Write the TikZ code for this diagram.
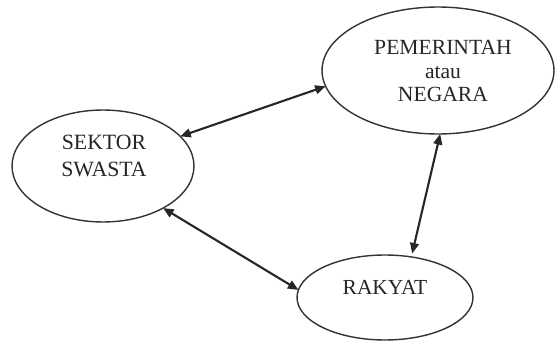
\documentclass[tikz,border=0pt]{standalone}
\usepackage{fontspec}
\setmainfont{Liberation Serif}
\usetikzlibrary{shapes.geometric}
\usetikzlibrary{arrows.meta}

\begin{document}
\begin{tikzpicture}[x=0.02cm, y=-0.02cm,
  lingkaran/.style={ellipse, draw=black!80, line width=0.8pt, inner sep=0pt, outer sep=0pt},
  teks/.style={align=center, text=black!85, inner sep=0pt},
  panah/.style={{Triangle[length=6pt,width=5pt]}-{Triangle[length=6pt,width=5pt]}, line width=1.2pt, black!85}]

\useasboundingbox (0,0) rectangle (555,341);

% ellipses
{
\node[lingkaran, minimum width=3.64cm, minimum height=2.24cm] (swasta) at (103,166) {};
\node[lingkaran, minimum width=4.64cm, minimum height=2.54cm] (negara) at (438,70.5) {};
\node[lingkaran, minimum width=3.52cm, minimum height=1.7cm] (rakyat) at (385,297.5) {};
}

% nodes
{
\node[teks, font=\fontsize{12.4}{15.3}\selectfont] (swastaT) at (104,156) {SEKTOR\\SWASTA};
\node[teks, font=\fontsize{12.3}{13.3}\selectfont] (negaraT) at (443,71) {PEMERINTAH\\atau\\NEGARA};
\node[teks, font=\fontsize{12.2}{14}\selectfont] (rakyatT) at (385,287) {RAKYAT};
}

% arrows
\draw[panah] (swasta.21) -- (negara.188);
\draw[panah] (swasta.-35) -- (rakyat.175);
\draw[panah, shorten >=2pt] (negara.-88) -- (rakyat.57);

\end{tikzpicture}
\end{document}
